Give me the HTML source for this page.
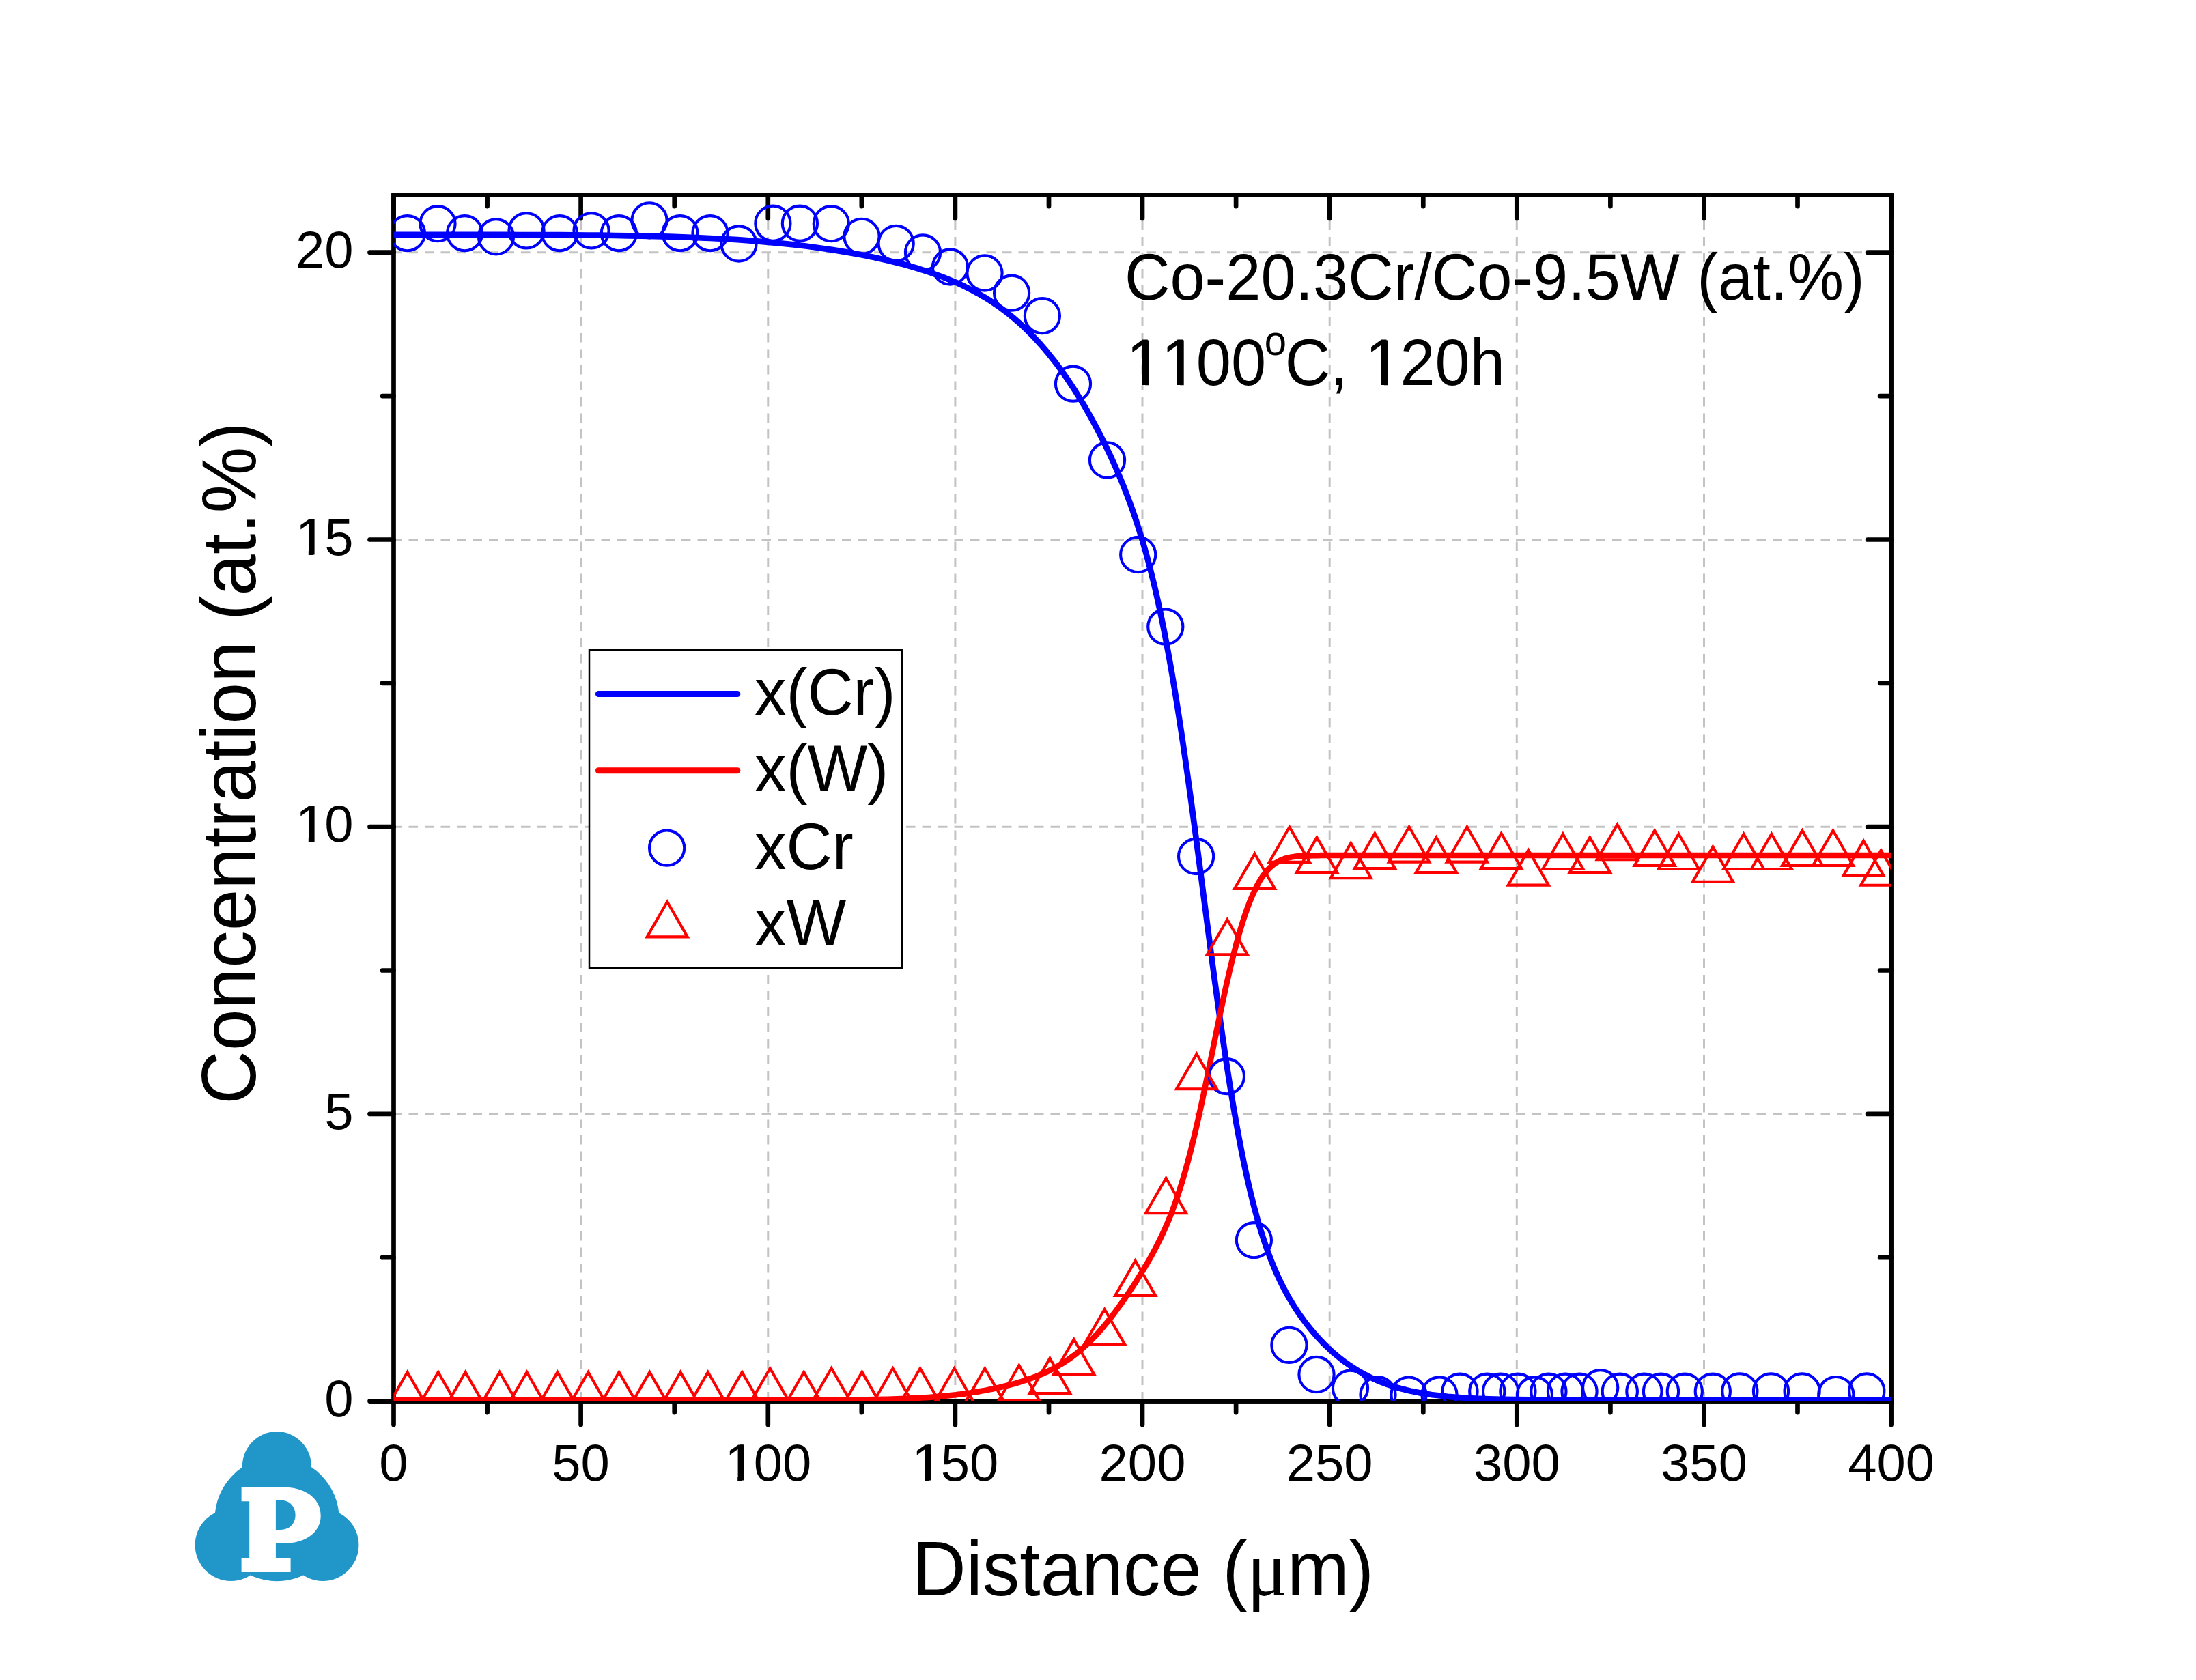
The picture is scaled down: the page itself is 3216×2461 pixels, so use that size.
<!DOCTYPE html><html><head><meta charset="utf-8"><title>Concentration profile</title><style>html,body{margin:0;padding:0;background:#fff;overflow:hidden;width:3216px;height:2461px;}svg{display:block;} text{font-kerning:none;}</style></head><body>
<svg width="3216" height="2461" viewBox="0 0 3216 2461">
<defs><clipPath id="pc"><rect x="576.5" y="285.6" width="2193.1" height="1767.4"/></clipPath></defs>
<rect width="3216" height="2461" fill="#fff"/>
<path d="M850.6,2052.6V285.6M1124.8,2052.6V285.6M1398.9,2052.6V285.6M1673.0,2052.6V285.6M1947.2,2052.6V285.6M2221.3,2052.6V285.6M2495.5,2052.6V285.6" stroke="#c3c3c3" stroke-width="3" stroke-dasharray="13.5 10" fill="none"/>
<path d="M575.0,1631.9H2769.6M575.0,1211.2H2769.6M575.0,790.5H2769.6M575.0,369.7H2769.6" stroke="#c3c3c3" stroke-width="3" stroke-dasharray="13.5 10" fill="none"/>
<path d="M576.5,2052.6V2087.1M576.5,285.6V320.1M713.6,2052.6V2069.1M713.6,285.6V302.1M850.6,2052.6V2087.1M850.6,285.6V320.1M987.7,2052.6V2069.1M987.7,285.6V302.1M1124.8,2052.6V2087.1M1124.8,285.6V320.1M1261.8,2052.6V2069.1M1261.8,285.6V302.1M1398.9,2052.6V2087.1M1398.9,285.6V320.1M1536.0,2052.6V2069.1M1536.0,285.6V302.1M1673.0,2052.6V2087.1M1673.0,285.6V320.1M1810.1,2052.6V2069.1M1810.1,285.6V302.1M1947.2,2052.6V2087.1M1947.2,285.6V320.1M2084.3,2052.6V2069.1M2084.3,285.6V302.1M2221.3,2052.6V2087.1M2221.3,285.6V320.1M2358.4,2052.6V2069.1M2358.4,285.6V302.1M2495.5,2052.6V2087.1M2495.5,285.6V320.1M2632.5,2052.6V2069.1M2632.5,285.6V302.1M2769.6,2052.6V2087.1M2769.6,285.6V320.1M576.5,2052.6H541.5M2769.6,2052.6H2735.1M576.5,1842.2H559.9M2769.6,1842.2H2753.1M576.5,1631.9H541.5M2769.6,1631.9H2735.1M576.5,1421.5H559.9M2769.6,1421.5H2753.1M576.5,1211.2H541.5M2769.6,1211.2H2735.1M576.5,1000.8H559.9M2769.6,1000.8H2753.1M576.5,790.5H541.5M2769.6,790.5H2735.1M576.5,580.1H559.9M2769.6,580.1H2753.1M576.5,369.7H541.5M2769.6,369.7H2735.1" stroke="#000" stroke-width="6.7" stroke-linecap="round" fill="none"/>
<rect x="576.5" y="285.6" width="2193.1" height="1767.0" fill="none" stroke="#000" stroke-width="6.7"/>
<g clip-path="url(#pc)">
<path d="M560.0,343.8 L580.0,343.8 L600.0,343.8 L620.0,343.8 L640.0,343.8 L660.0,343.8 L680.0,343.8 L700.0,343.9 L720.0,343.9 L740.0,343.9 L760.0,344.0 L780.0,344.0 L800.0,344.1 L820.0,344.2 L840.0,344.4 L860.0,344.5 L880.0,344.7 L900.0,345.0 L920.0,345.3 L940.0,345.7 L960.0,346.1 L980.0,346.6 L1000.0,347.3 L1020.0,348.1 L1040.0,349.0 L1060.0,350.0 L1080.0,351.2 L1100.0,352.7 L1120.0,354.3 L1140.0,356.1 L1160.0,358.2 L1180.0,360.5 L1200.0,363.2 L1220.0,366.1 L1240.0,369.4 L1260.0,373.0 L1280.0,377.0 L1300.0,381.5 L1320.0,386.4 L1340.0,392.0 L1360.0,398.3 L1380.0,405.5 L1400.0,413.8 L1403.0,415.1 L1406.0,416.5 L1409.0,417.9 L1412.0,419.3 L1415.0,420.8 L1418.0,422.3 L1421.0,423.8 L1424.0,425.3 L1427.0,426.9 L1430.0,428.6 L1433.0,430.3 L1436.0,432.0 L1439.0,433.7 L1442.0,435.5 L1445.0,437.3 L1448.0,439.2 L1451.0,441.2 L1454.0,443.1 L1457.0,445.1 L1460.0,447.2 L1463.0,449.3 L1466.0,451.5 L1469.0,453.7 L1472.0,455.9 L1475.0,458.3 L1478.0,460.6 L1481.0,463.1 L1484.0,465.5 L1487.0,468.1 L1490.0,470.7 L1493.0,473.3 L1496.0,476.1 L1499.0,478.8 L1502.0,481.7 L1505.0,484.6 L1508.0,487.6 L1511.0,490.6 L1514.0,493.7 L1517.0,496.9 L1520.0,500.2 L1523.0,503.5 L1526.0,506.9 L1529.0,510.3 L1532.0,513.9 L1535.0,517.5 L1538.0,521.2 L1541.0,525.0 L1544.0,528.8 L1547.0,532.7 L1550.0,536.7 L1553.0,540.8 L1556.0,545.0 L1559.0,549.2 L1562.0,553.6 L1565.0,558.0 L1568.0,562.5 L1571.0,567.1 L1574.0,571.7 L1577.0,576.5 L1580.0,581.3 L1583.0,586.2 L1586.0,591.2 L1589.0,596.3 L1592.0,601.5 L1595.0,606.8 L1598.0,612.2 L1601.0,617.7 L1604.0,623.2 L1607.0,628.9 L1610.0,634.7 L1613.0,640.5 L1616.0,646.5 L1619.0,652.6 L1622.0,658.8 L1625.0,665.2 L1628.0,671.6 L1631.0,678.2 L1634.0,685.0 L1637.0,691.9 L1640.0,699.0 L1643.0,706.2 L1646.0,713.7 L1649.0,721.3 L1652.0,729.2 L1655.0,737.3 L1658.0,745.6 L1661.0,754.2 L1664.0,763.1 L1667.0,772.3 L1670.0,781.9 L1673.0,791.8 L1676.0,802.0 L1679.0,812.7 L1682.0,823.8 L1685.0,835.3 L1688.0,847.3 L1691.0,859.8 L1694.0,872.8 L1697.0,886.3 L1700.0,900.3 L1703.0,914.9 L1706.0,930.1 L1709.0,945.9 L1712.0,962.2 L1715.0,979.2 L1718.0,996.7 L1721.0,1014.8 L1724.0,1033.4 L1727.0,1052.7 L1730.0,1072.4 L1733.0,1092.7 L1736.0,1113.4 L1739.0,1134.6 L1742.0,1156.2 L1745.0,1178.2 L1748.0,1200.5 L1751.0,1223.0 L1754.0,1245.8 L1757.0,1268.8 L1760.0,1291.8 L1763.0,1314.9 L1766.0,1338.0 L1769.0,1361.1 L1772.0,1384.0 L1775.0,1406.7 L1778.0,1429.2 L1781.0,1451.4 L1784.0,1473.3 L1787.0,1494.8 L1790.0,1515.8 L1793.0,1536.3 L1796.0,1556.4 L1799.0,1575.9 L1802.0,1594.8 L1805.0,1613.1 L1808.0,1630.8 L1811.0,1647.9 L1814.0,1664.3 L1817.0,1680.1 L1820.0,1695.3 L1823.0,1709.8 L1826.0,1723.7 L1829.0,1736.9 L1832.0,1749.6 L1835.0,1761.7 L1838.0,1773.2 L1841.0,1784.1 L1844.0,1794.5 L1847.0,1804.5 L1850.0,1813.9 L1853.0,1822.9 L1856.0,1831.4 L1859.0,1839.6 L1862.0,1847.3 L1865.0,1854.7 L1868.0,1861.8 L1871.0,1868.5 L1874.0,1874.9 L1877.0,1881.1 L1880.0,1887.0 L1883.0,1892.6 L1886.0,1898.1 L1889.0,1903.3 L1892.0,1908.3 L1895.0,1913.2 L1898.0,1917.8 L1901.0,1922.4 L1904.0,1926.7 L1907.0,1930.9 L1910.0,1935.0 L1913.0,1939.0 L1916.0,1942.8 L1919.0,1946.5 L1922.0,1950.1 L1925.0,1953.6 L1928.0,1957.0 L1931.0,1960.3 L1934.0,1963.5 L1937.0,1966.6 L1940.0,1969.7 L1943.0,1972.6 L1946.0,1975.4 L1949.0,1978.2 L1952.0,1980.9 L1955.0,1983.5 L1958.0,1986.0 L1961.0,1988.5 L1964.0,1990.9 L1967.0,1993.2 L1970.0,1995.4 L1973.0,1997.6 L1976.0,1999.7 L1979.0,2001.7 L1982.0,2003.6 L1985.0,2005.6 L1988.0,2007.4 L1991.0,2009.2 L1994.0,2010.9 L1997.0,2012.5 L2000.0,2014.1 L2003.0,2015.7 L2006.0,2017.2 L2009.0,2018.6 L2012.0,2020.0 L2015.0,2021.4 L2018.0,2022.6 L2021.0,2023.9 L2024.0,2025.1 L2027.0,2026.2 L2030.0,2027.3 L2033.0,2028.4 L2036.0,2029.4 L2039.0,2030.4 L2042.0,2031.4 L2045.0,2032.3 L2048.0,2033.1 L2051.0,2034.0 L2054.0,2034.8 L2057.0,2035.5 L2060.0,2036.3 L2063.0,2037.0 L2066.0,2037.7 L2069.0,2038.3 L2072.0,2038.9 L2075.0,2039.5 L2078.0,2040.1 L2081.0,2040.6 L2084.0,2041.1 L2087.0,2041.6 L2090.0,2042.1 L2093.0,2042.5 L2096.0,2043.0 L2099.0,2043.4 L2100.0,2043.5 L2120.0,2045.8 L2140.0,2047.4 L2160.0,2048.5 L2180.0,2049.3 L2200.0,2049.8 L2220.0,2050.1 L2240.0,2050.4 L2260.0,2050.5 L2280.0,2050.6 L2300.0,2050.7 L2320.0,2050.8 L2340.0,2050.8 L2360.0,2050.8 L2380.0,2050.8 L2400.0,2050.8 L2420.0,2050.8 L2440.0,2050.8 L2460.0,2050.8 L2480.0,2050.8 L2500.0,2050.8 L2520.0,2050.8 L2540.0,2050.8 L2560.0,2050.8 L2580.0,2050.8 L2600.0,2050.8 L2620.0,2050.8 L2640.0,2050.8 L2660.0,2050.8 L2680.0,2050.8 L2700.0,2050.8 L2720.0,2050.8 L2740.0,2050.8 L2760.0,2050.8 L2780.0,2050.8" fill="none" stroke="#0000ff" stroke-width="8.7" stroke-linejoin="round"/>
<path d="M560.0,2050.9 L580.0,2050.9 L600.0,2050.9 L620.0,2050.9 L640.0,2050.9 L660.0,2050.9 L680.0,2050.9 L700.0,2050.9 L720.0,2050.9 L740.0,2050.9 L760.0,2050.9 L780.0,2050.9 L800.0,2050.9 L820.0,2050.9 L840.0,2050.9 L860.0,2050.9 L880.0,2050.9 L900.0,2050.9 L920.0,2050.9 L940.0,2050.9 L960.0,2050.9 L980.0,2050.9 L1000.0,2050.9 L1020.0,2050.9 L1040.0,2050.9 L1060.0,2050.9 L1080.0,2050.9 L1100.0,2050.9 L1120.0,2050.9 L1140.0,2050.9 L1160.0,2050.8 L1180.0,2050.8 L1200.0,2050.8 L1220.0,2050.7 L1240.0,2050.6 L1260.0,2050.4 L1280.0,2050.1 L1300.0,2049.7 L1320.0,2049.0 L1340.0,2048.1 L1360.0,2046.9 L1380.0,2045.3 L1400.0,2043.2 L1403.0,2042.8 L1406.0,2042.4 L1409.0,2042.1 L1412.0,2041.7 L1415.0,2041.2 L1418.0,2040.8 L1421.0,2040.4 L1424.0,2039.9 L1427.0,2039.4 L1430.0,2039.0 L1433.0,2038.5 L1436.0,2037.9 L1439.0,2037.4 L1442.0,2036.9 L1445.0,2036.3 L1448.0,2035.7 L1451.0,2035.1 L1454.0,2034.5 L1457.0,2033.9 L1460.0,2033.2 L1463.0,2032.6 L1466.0,2031.9 L1469.0,2031.2 L1472.0,2030.4 L1475.0,2029.7 L1478.0,2028.9 L1481.0,2028.1 L1484.0,2027.3 L1487.0,2026.5 L1490.0,2025.6 L1493.0,2024.7 L1496.0,2023.8 L1499.0,2022.8 L1502.0,2021.9 L1505.0,2020.8 L1508.0,2019.8 L1511.0,2018.7 L1514.0,2017.6 L1517.0,2016.5 L1520.0,2015.3 L1523.0,2014.0 L1526.0,2012.8 L1529.0,2011.4 L1532.0,2010.1 L1535.0,2008.6 L1538.0,2007.2 L1541.0,2005.6 L1544.0,2004.0 L1547.0,2002.4 L1550.0,2000.7 L1553.0,1998.9 L1556.0,1997.1 L1559.0,1995.2 L1562.0,1993.2 L1565.0,1991.2 L1568.0,1989.0 L1571.0,1986.8 L1574.0,1984.6 L1577.0,1982.2 L1580.0,1979.7 L1583.0,1977.2 L1586.0,1974.6 L1589.0,1971.9 L1592.0,1969.1 L1595.0,1966.2 L1598.0,1963.2 L1601.0,1960.2 L1604.0,1957.0 L1607.0,1953.8 L1610.0,1950.5 L1613.0,1947.0 L1616.0,1943.5 L1619.0,1939.9 L1622.0,1936.3 L1625.0,1932.5 L1628.0,1928.6 L1631.0,1924.7 L1634.0,1920.7 L1637.0,1916.6 L1640.0,1912.5 L1643.0,1908.3 L1646.0,1904.0 L1649.0,1899.6 L1652.0,1895.2 L1655.0,1890.7 L1658.0,1886.2 L1661.0,1881.5 L1664.0,1876.9 L1667.0,1872.1 L1670.0,1867.3 L1673.0,1862.4 L1676.0,1857.4 L1679.0,1852.3 L1682.0,1847.1 L1685.0,1841.8 L1688.0,1836.4 L1691.0,1830.8 L1694.0,1825.1 L1697.0,1819.1 L1700.0,1813.0 L1703.0,1806.7 L1706.0,1800.0 L1709.0,1793.2 L1712.0,1786.0 L1715.0,1778.5 L1718.0,1770.6 L1721.0,1762.3 L1724.0,1753.7 L1727.0,1744.6 L1730.0,1735.1 L1733.0,1725.1 L1736.0,1714.7 L1739.0,1703.8 L1742.0,1692.5 L1745.0,1680.6 L1748.0,1668.4 L1751.0,1655.7 L1754.0,1642.6 L1757.0,1629.1 L1760.0,1615.3 L1763.0,1601.2 L1766.0,1586.9 L1769.0,1572.4 L1772.0,1557.7 L1775.0,1543.0 L1778.0,1528.2 L1781.0,1513.5 L1784.0,1499.0 L1787.0,1484.5 L1790.0,1470.3 L1793.0,1456.4 L1796.0,1442.8 L1799.0,1429.6 L1802.0,1416.8 L1805.0,1404.4 L1808.0,1392.5 L1811.0,1381.1 L1814.0,1370.3 L1817.0,1360.0 L1820.0,1350.2 L1823.0,1341.0 L1826.0,1332.3 L1829.0,1324.2 L1832.0,1316.7 L1835.0,1309.7 L1838.0,1303.2 L1841.0,1297.3 L1844.0,1291.8 L1847.0,1286.9 L1850.0,1282.5 L1853.0,1278.4 L1856.0,1274.9 L1859.0,1271.7 L1862.0,1268.9 L1865.0,1266.4 L1868.0,1264.3 L1871.0,1262.5 L1874.0,1260.9 L1877.0,1259.5 L1880.0,1258.4 L1883.0,1257.4 L1886.0,1256.6 L1889.0,1256.0 L1892.0,1255.4 L1895.0,1254.9 L1898.0,1254.6 L1901.0,1254.3 L1904.0,1254.0 L1907.0,1253.8 L1910.0,1253.7 L1913.0,1253.5 L1916.0,1253.4 L1919.0,1253.4 L1922.0,1253.3 L1925.0,1253.2 L1928.0,1253.2 L1931.0,1253.2 L1934.0,1253.1 L1937.0,1253.1 L1940.0,1253.1 L1943.0,1253.1 L1946.0,1253.1 L1949.0,1253.1 L1952.0,1253.0 L1955.0,1253.0 L1958.0,1253.0 L1961.0,1253.0 L1964.0,1253.0 L1967.0,1253.0 L1970.0,1253.0 L1973.0,1253.0 L1976.0,1253.0 L1979.0,1253.0 L1982.0,1253.0 L1985.0,1253.0 L1988.0,1253.0 L1991.0,1253.0 L1994.0,1253.0 L1997.0,1253.0 L2000.0,1253.0 L2003.0,1253.0 L2006.0,1253.0 L2009.0,1253.0 L2012.0,1253.0 L2015.0,1253.0 L2018.0,1253.0 L2021.0,1253.0 L2024.0,1253.0 L2027.0,1253.0 L2030.0,1253.0 L2033.0,1253.0 L2036.0,1253.0 L2039.0,1253.0 L2042.0,1253.0 L2045.0,1253.0 L2048.0,1253.0 L2051.0,1253.0 L2054.0,1253.0 L2057.0,1253.0 L2060.0,1253.0 L2063.0,1253.0 L2066.0,1253.0 L2069.0,1253.0 L2072.0,1253.0 L2075.0,1253.0 L2078.0,1253.0 L2081.0,1253.0 L2084.0,1253.0 L2087.0,1253.0 L2090.0,1253.0 L2093.0,1253.0 L2096.0,1253.0 L2099.0,1253.0 L2100.0,1253.0 L2120.0,1253.0 L2140.0,1253.0 L2160.0,1253.0 L2180.0,1253.0 L2200.0,1253.0 L2220.0,1253.0 L2240.0,1253.0 L2260.0,1253.0 L2280.0,1253.0 L2300.0,1253.0 L2320.0,1253.0 L2340.0,1253.0 L2360.0,1253.0 L2380.0,1253.0 L2400.0,1253.0 L2420.0,1253.0 L2440.0,1253.0 L2460.0,1253.0 L2480.0,1253.0 L2500.0,1253.0 L2520.0,1253.0 L2540.0,1253.0 L2560.0,1253.0 L2580.0,1253.0 L2600.0,1253.0 L2620.0,1253.0 L2640.0,1253.0 L2660.0,1253.0 L2680.0,1253.0 L2700.0,1253.0 L2720.0,1253.0 L2740.0,1253.0 L2760.0,1253.0 L2780.0,1253.0" fill="none" stroke="#ff0000" stroke-width="8.5" stroke-linejoin="round"/>
<g fill="none" stroke="#0000ff" stroke-width="4.1">
<circle cx="596.5" cy="341.7" r="25.6"/>
<circle cx="641.0" cy="327.7" r="25.6"/>
<circle cx="680.6" cy="341.7" r="25.6"/>
<circle cx="726.5" cy="346.8" r="25.6"/>
<circle cx="771.0" cy="337.9" r="25.6"/>
<circle cx="819.6" cy="341.7" r="25.6"/>
<circle cx="866.0" cy="337.9" r="25.6"/>
<circle cx="906.3" cy="341.7" r="25.6"/>
<circle cx="951.0" cy="322.8" r="25.6"/>
<circle cx="996.0" cy="341.7" r="25.6"/>
<circle cx="1040.0" cy="341.7" r="25.6"/>
<circle cx="1082.0" cy="357.0" r="25.6"/>
<circle cx="1131.9" cy="327.2" r="25.6"/>
<circle cx="1171.4" cy="327.2" r="25.6"/>
<circle cx="1217.3" cy="327.7" r="25.6"/>
<circle cx="1262.0" cy="346.3" r="25.6"/>
<circle cx="1312.2" cy="356.5" r="25.6"/>
<circle cx="1351.5" cy="370.0" r="25.6"/>
<circle cx="1391.5" cy="391.0" r="25.6"/>
<circle cx="1442.0" cy="400.0" r="25.6"/>
<circle cx="1481.6" cy="429.2" r="25.6"/>
<circle cx="1526.4" cy="462.7" r="25.6"/>
<circle cx="1571.5" cy="562.2" r="25.6"/>
<circle cx="1621.5" cy="674.0" r="25.6"/>
<circle cx="1666.7" cy="812.5" r="25.6"/>
<circle cx="1706.8" cy="918.1" r="25.6"/>
<circle cx="1751.6" cy="1254.5" r="25.6"/>
<circle cx="1796.4" cy="1576.7" r="25.6"/>
<circle cx="1836.4" cy="1816.7" r="25.6"/>
<circle cx="1887.9" cy="1970.4" r="25.6"/>
<circle cx="1928.0" cy="2013.5" r="25.6"/>
<circle cx="1977.5" cy="2033.2" r="25.6"/>
<circle cx="2018.0" cy="2043.0" r="25.6"/>
<circle cx="2063.0" cy="2043.1" r="25.6"/>
<circle cx="2108.0" cy="2043.0" r="25.6"/>
<circle cx="2138.0" cy="2038.2" r="25.6"/>
<circle cx="2177.8" cy="2038.2" r="25.6"/>
<circle cx="2197.6" cy="2038.2" r="25.6"/>
<circle cx="2222.9" cy="2038.2" r="25.6"/>
<circle cx="2247.4" cy="2043.0" r="25.6"/>
<circle cx="2267.9" cy="2038.2" r="25.6"/>
<circle cx="2292.5" cy="2038.2" r="25.6"/>
<circle cx="2313.0" cy="2038.2" r="25.6"/>
<circle cx="2343.7" cy="2032.7" r="25.6"/>
<circle cx="2372.3" cy="2038.2" r="25.6"/>
<circle cx="2407.9" cy="2038.2" r="25.6"/>
<circle cx="2432.5" cy="2038.2" r="25.6"/>
<circle cx="2467.3" cy="2038.2" r="25.6"/>
<circle cx="2508.3" cy="2038.2" r="25.6"/>
<circle cx="2547.9" cy="2037.8" r="25.6"/>
<circle cx="2593.5" cy="2037.8" r="25.6"/>
<circle cx="2639.1" cy="2037.8" r="25.6"/>
<circle cx="2688.8" cy="2042.6" r="25.6"/>
<circle cx="2733.8" cy="2037.8" r="25.6"/>
</g>
<path d="M596.6,2010.1L626.2,2061.4L567.0,2061.4ZM641.7,2010.1L671.3,2061.4L612.1,2061.4ZM681.6,2010.1L711.2,2061.4L652.0,2061.4ZM731.7,2010.1L761.3,2061.4L702.1,2061.4ZM771.5,2010.1L801.1,2061.4L741.9,2061.4ZM816.4,2010.1L846.0,2061.4L786.8,2061.4ZM861.4,2010.1L891.0,2061.4L831.8,2061.4ZM906.5,2010.1L936.1,2061.4L876.9,2061.4ZM951.4,2010.1L981.0,2061.4L921.8,2061.4ZM996.5,2010.1L1026.1,2061.4L966.9,2061.4ZM1036.8,2010.1L1066.4,2061.4L1007.2,2061.4ZM1086.7,2010.0L1116.3,2061.3L1057.1,2061.3ZM1127.7,2004.6L1157.3,2055.9L1098.1,2055.9ZM1177.3,2010.0L1206.9,2061.3L1147.7,2061.3ZM1217.6,2004.3L1247.2,2055.6L1188.0,2055.6ZM1262.4,2009.8L1292.0,2061.1L1232.8,2061.1ZM1307.5,2004.6L1337.1,2055.9L1277.9,2055.9ZM1347.5,2004.6L1377.1,2055.9L1317.9,2055.9ZM1397.5,2004.6L1427.1,2055.9L1367.9,2055.9ZM1442.3,2004.6L1471.9,2055.9L1412.7,2055.9ZM1492.4,2000.1L1522.0,2051.4L1462.8,2051.4ZM1537.5,1989.7L1567.1,2041.0L1507.9,2041.0ZM1572.7,1961.9L1602.3,2013.2L1543.1,2013.2ZM1617.6,1918.0L1647.2,1969.3L1588.0,1969.3ZM1662.7,1846.7L1692.3,1898.0L1633.1,1898.0ZM1707.6,1725.8L1737.2,1777.1L1678.0,1777.1ZM1752.5,1543.9L1782.1,1595.2L1722.9,1595.2ZM1797.3,1347.1L1826.9,1398.4L1767.7,1398.4ZM1837.5,1250.7L1867.1,1302.0L1807.9,1302.0ZM1888.4,1211.6L1918.0,1262.9L1858.8,1262.9ZM1928.5,1226.7L1958.1,1278.0L1898.9,1278.0ZM1978.3,1235.0L2007.9,1286.3L1948.7,1286.3ZM2013.4,1220.8L2043.0,1272.1L1983.8,1272.1ZM2063.6,1211.3L2093.2,1262.6L2034.0,1262.6ZM2103.4,1226.7L2133.0,1278.0L2073.8,1278.0ZM2148.4,1211.3L2178.0,1262.6L2118.8,1262.6ZM2198.6,1220.8L2228.2,1272.1L2169.0,1272.1ZM2238.3,1245.3L2267.9,1296.6L2208.7,1296.6ZM2288.9,1221.7L2318.5,1273.0L2259.3,1273.0ZM2328.4,1226.7L2358.0,1278.0L2298.8,1278.0ZM2368.5,1207.9L2398.1,1259.2L2338.9,1259.2ZM2423.3,1216.7L2452.9,1268.0L2393.7,1268.0ZM2458.4,1221.7L2488.0,1273.0L2428.8,1273.0ZM2508.5,1240.4L2538.1,1291.7L2478.9,1291.7ZM2553.6,1221.7L2583.2,1273.0L2524.0,1273.0ZM2594.4,1221.7L2624.0,1273.0L2564.8,1273.0ZM2639.5,1216.7L2669.1,1268.0L2609.9,1268.0ZM2684.5,1216.7L2714.1,1268.0L2654.9,1268.0ZM2729.1,1231.7L2758.7,1283.0L2699.5,1283.0ZM2754.7,1245.5L2784.3,1296.8L2725.1,1296.8Z" fill="none" stroke="#ff0000" stroke-width="4.1" stroke-miterlimit="10"/>
</g>
<g font-family="Liberation Sans, sans-serif" font-size="76" fill="#000" text-anchor="middle">
<text x="576.5" y="2168.5">0</text>
<text x="850.6" y="2168.5">50</text>
<text x="1124.8" y="2168.5">100</text>
<text x="1398.9" y="2168.5">150</text>
<text x="1673.0" y="2168.5">200</text>
<text x="1947.2" y="2168.5">250</text>
<text x="2221.3" y="2168.5">300</text>
<text x="2495.5" y="2168.5">350</text>
<text x="2769.6" y="2168.5">400</text>
</g>
<g font-family="Liberation Sans, sans-serif" font-size="76" fill="#000" text-anchor="end">
<text x="517.5" y="2074.6">0</text>
<text x="517.5" y="1653.9">5</text>
<text x="517.5" y="1233.2">10</text>
<text x="517.5" y="812.5">15</text>
<text x="517.5" y="391.7">20</text>
</g>
<rect x="863" y="952" width="458" height="466" fill="#fff" stroke="#000" stroke-width="2.5"/>
<path d="M876.4,1016.5H1079.9" stroke="#0000ff" stroke-width="9" stroke-linecap="round"/>
<path d="M876.4,1128.8H1079.9" stroke="#ff0000" stroke-width="9" stroke-linecap="round"/>
<circle cx="976.6" cy="1242.1" r="25.6" fill="none" stroke="#0000ff" stroke-width="4.1"/>
<path d="M977.2,1321.1L1006.8,1372.4L947.6,1372.4Z" fill="none" stroke="#ff0000" stroke-width="4.1"/>
<g font-family="Liberation Sans, sans-serif" font-size="93" fill="#000">
<text transform="translate(1105,1047.0) scale(1,1.03)">x(Cr)</text>
<text transform="translate(1105,1159.2) scale(1,1.03)">x(W)</text>
<text transform="translate(1105,1273.0) scale(1,1.03)">xCr</text>
<text transform="translate(1105,1385.4) scale(1,1.03)">xW</text>
</g>
<g font-family="Liberation Sans, sans-serif" font-size="92" fill="#000">
<text transform="translate(1647,438.5) scale(1,1.04)">Co-20.3Cr/Co-9.5W (at.%)</text>
<text transform="translate(1649.5,564.3) scale(1,1.04)">1100<tspan font-size="58" dy="-43" dx="-2.5">o</tspan><tspan dy="43" dx="-2.2">C, 120h</tspan></text>
</g>
<path d="M1066.0,2161.7H1080.2V2170.0H1066.0ZM1087.1,2161.7H1100.9V2170.0H1087.1ZM1340.1,2161.7H1354.3V2170.0H1340.1ZM1361.2,2161.7H1375.0V2170.0H1361.2ZM437.5,1226.3H451.8V1234.7H437.5ZM458.7,1226.3H472.5V1234.7H458.7ZM437.5,805.6H451.8V814.0H437.5ZM458.7,805.6H472.5V814.0H458.7ZM1655.0,555.7H1672.2V565.8H1655.0ZM1680.6,555.7H1697.3V565.8H1680.6ZM1706.2,555.7H1723.4V565.8H1706.2ZM1731.7,555.7H1748.5V565.8H1731.7ZM2004.8,555.7H2022.0V565.8H2004.8ZM2030.3,555.7H2047.1V565.8H2030.3Z" fill="#fff"/>
<path d="M1084.2,2116.2H1089.1V2168.5H1084.2ZM1358.3,2116.2H1363.2V2168.5H1358.3ZM455.8,1180.9H460.6V1233.2H455.8ZM455.8,760.2H460.6V812.5H455.8ZM1677.1,498.5H1682.5V564.3H1677.1ZM1728.3,498.5H1733.7V564.3H1728.3ZM2026.8,498.5H2032.3V564.3H2026.8Z" fill="#000"/>
<text font-family="Liberation Sans, sans-serif" font-size="109" fill="#000" text-anchor="middle" transform="translate(1674,2337) scale(1,1.04)">Distance (<tspan font-family="Liberation Serif, serif">μ</tspan>m)</text>
<text font-family="Liberation Sans, sans-serif" font-size="109" fill="#000" text-anchor="middle" transform="translate(373.5,1118) rotate(-90) scale(1,1.035)">Concentration (at.%)</text>
<g fill="#2196c9">
<circle cx="405.4" cy="2147.6" r="50.5"/>
<circle cx="405.6" cy="2225.1" r="91.1"/>
<circle cx="338.2" cy="2263.3" r="52.6"/>
<circle cx="472.8" cy="2263.3" r="52.6"/>
</g>
<path fill="#fff" fill-rule="evenodd" d="M353.6,2178.5 L414.8,2178.6 C444,2178.6 469.7,2193 469.7,2220.3 C469.7,2246 446,2261.1 414.8,2261.1 L403.9,2261.1 L403.9,2282 L425.6,2282 L425.6,2302.9 L353.6,2302.9 L353.6,2282 L365.2,2282 L365.2,2199.2 L353.6,2199.2 Z M403.9,2197.6 L410.9,2197.6 C424,2197.6 432.6,2207 432.6,2219.3 C432.6,2232 424,2241 410.9,2241 L403.9,2241 Z"/>
</svg></body></html>
